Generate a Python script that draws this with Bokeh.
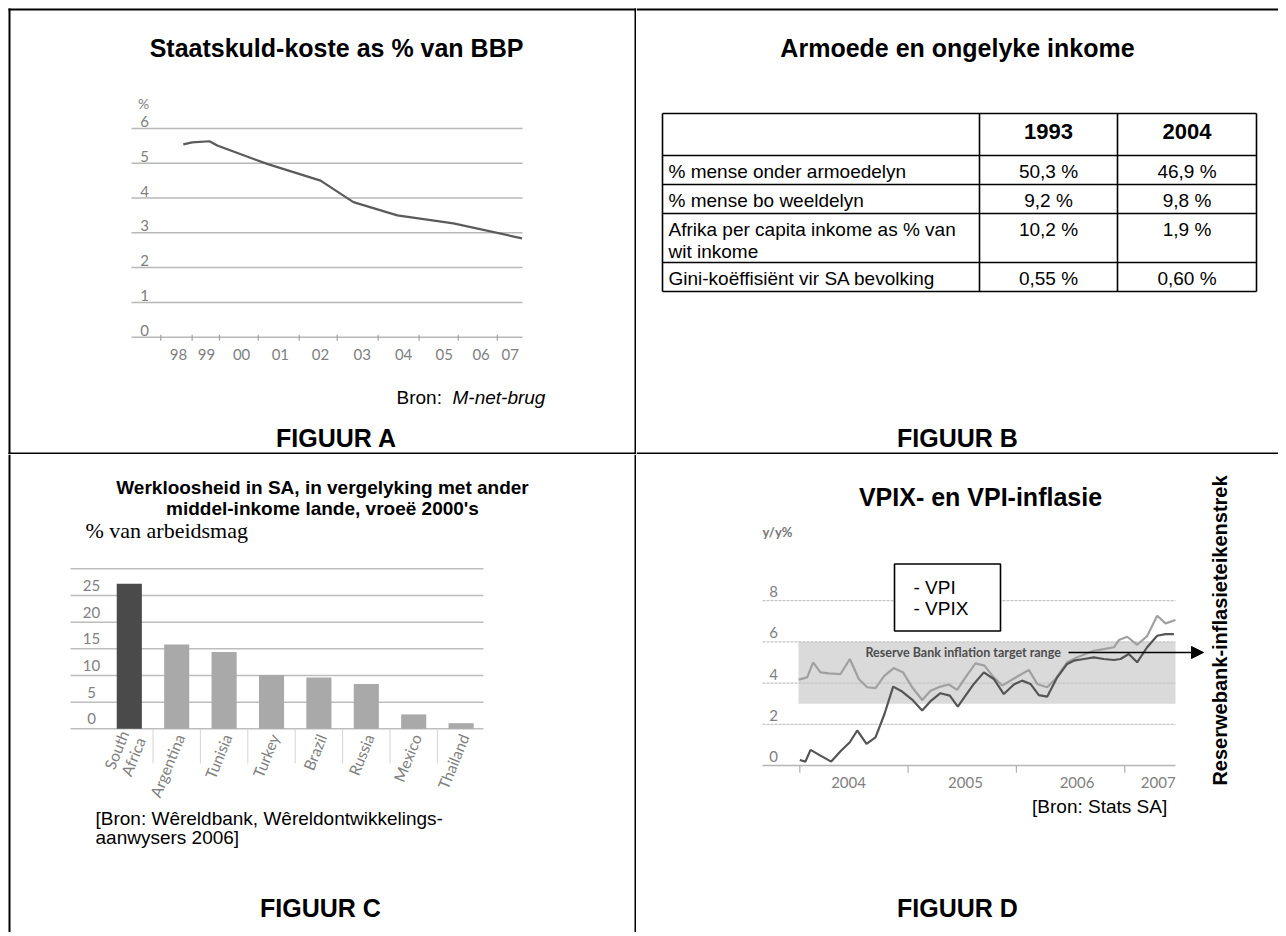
import math
from bokeh.plotting import figure
from bokeh.models import Range1d, Label, Arrow, NormalHead
from bokeh.layouts import column, row
from bokeh.embed import file_html
from bokeh.resources import INLINE
from bokeh.core.properties import value

# ---------------- data ----------------
# Figure A: government debt cost as % of GDP
debt_year = [1998.13, 1998.37, 1998.84, 1999.05, 2000.40, 2001.85, 2002.74, 2003.93, 2005.45, 2007.31]
debt_pct = [5.54, 5.60, 5.63, 5.51, 4.98, 4.50, 3.88, 3.50, 3.27, 2.84]
debt_yticks = [0, 1, 2, 3, 4, 5, 6]
debt_xlabels = ["98", "99", "00", "01", "02", "03", "04", "05", "06", "07"]
debt_xlabel_pos = [1998.0, 1998.76, 1999.71, 2000.76, 2001.85, 2002.98, 2004.10, 2005.20, 2006.20, 2006.99]
debt_xtick_pos = [1997.52, 1998.37, 1999.11, 2000.16, 2001.27, 2002.30, 2003.41, 2004.52, 2005.58, 2006.64]

# Figure B: poverty table
table_years = ["1993", "2004"]
table_rows = ["% mense onder armoedelyn", "% mense bo weeldelyn",
              "Afrika per capita inkome as % van\nwit inkome", "Gini-koëffisiënt vir SA bevolking"]
table_1993 = ["50,3 %", "9,2 %", "10,2 %", "0,55 %"]
table_2004 = ["46,9 %", "9,8 %", "1,9 %", "0,60 %"]

# Figure C: unemployment
countries = ["South\nAfrica", "Argentina", "Tunisia", "Turkey", "Brazil", "Russia", "Mexico", "Thailand"]
unemployment = [27.2, 15.8, 14.4, 10.1, 9.6, 8.4, 2.7, 1.05]
unemp_yticks = [0, 5, 10, 15, 20, 25]
unemp_grid = [0, 5, 10, 15, 20, 25, 30]

# Figure D: CPIX and CPI inflation
vpix_t = [2003.99, 2004.068, 2004.123, 2004.191, 2004.268, 2004.376, 2004.462, 2004.545, 2004.622, 2004.699,
          2004.782, 2004.868, 2004.954, 2005.037, 2005.130, 2005.207, 2005.299, 2005.376, 2005.453, 2005.530,
          2005.622, 2005.705, 2005.791, 2005.868, 2005.945, 2006.022, 2006.115, 2006.192, 2006.284, 2006.361,
          2006.469, 2006.561, 2006.638, 2006.715, 2006.807, 2006.900, 2006.946, 2007.023, 2007.115, 2007.207,
          2007.300, 2007.377, 2007.469]
vpix_v = [4.17, 4.28, 5.01, 4.52, 4.47, 4.44, 5.17, 4.20, 3.80, 3.76,
          4.36, 4.73, 4.52, 3.80, 3.18, 3.63, 3.83, 3.93, 3.67, 4.28,
          4.96, 4.85, 4.28, 3.88, 4.12, 4.36, 4.64, 3.96, 3.80, 4.20,
          5.01, 5.25, 5.41, 5.57, 5.65, 5.74, 6.09, 6.25, 5.86, 6.28,
          7.27, 6.90, 7.06]
vpi_t = [2004.000, 2004.052, 2004.099, 2004.191, 2004.290, 2004.376, 2004.462, 2004.530, 2004.616, 2004.699,
         2004.782, 2004.862, 2004.945, 2005.037, 2005.130, 2005.207, 2005.299, 2005.385, 2005.459, 2005.530,
         2005.607, 2005.699, 2005.791, 2005.884, 2005.976, 2006.053, 2006.130, 2006.207, 2006.284, 2006.377,
         2006.469, 2006.530, 2006.623, 2006.715, 2006.807, 2006.900, 2006.961, 2007.038, 2007.115, 2007.207,
         2007.300, 2007.377, 2007.454]
vpi_v = [0.27, 0.19, 0.76, 0.48, 0.19, 0.69, 1.13, 1.70, 1.05, 1.37,
         2.50, 3.83, 3.59, 3.20, 2.67, 3.12, 3.51, 3.39, 2.86, 3.39,
         3.96, 4.52, 4.20, 3.47, 3.93, 4.12, 3.96, 3.42, 3.34, 4.28,
         4.93, 5.09, 5.17, 5.25, 5.17, 5.12, 5.17, 5.41, 5.01, 5.74,
         6.30, 6.38, 6.38]
target_band = [3, 6]
infl_yticks = [0, 2, 4, 6, 8]
infl_years = [2004, 2005, 2006, 2007]
infl_xlabels = ["2004", "2005", "2006", "2007"]
infl_xlabel_pos = [2004.45, 2005.53, 2006.56, 2007.31]

# ---------------- helpers ----------------
SANS = "Liberation Sans"
CHART = "Lato"
GREY_TXT = "#808080"
TICK = "15px"


def cell(x0, y0, x1, y1):
    p = figure(width=x1 - x0, height=y1 - y0,
               x_range=Range1d(x0, x1), y_range=Range1d(y1, y0),
               x_axis_type=None, y_axis_type=None,
               output_backend="svg", toolbar_location=None, tools="", min_border=0)
    p.outline_line_color = None
    p.background_fill_color = "white"
    p.border_fill_color = "white"
    return p


def lab(p, x, y, text, size, style="normal", align="left", font=SANS, color="black",
        angle=0, baseline="middle"):
    p.add_layout(Label(x=x, y=y, text=text, text_font=font, text_font_size=f"{size}px",
                       text_font_style=style, text_align=align, text_baseline=baseline,
                       text_color=color, angle=angle, angle_units="deg"))


def borders(p, segs):
    p.segment(x0=[s[0] for s in segs], y0=[s[1] for s in segs],
              x1=[s[2] for s in segs], y1=[s[3] for s in segs],
              line_color="black", line_width=2)


TITLE = 25
BODY = 19

# ---------------- Figure A ----------------
pA = cell(0, 0, 636, 454)
borders(pA, [(9, 8, 9, 454), (8, 9, 636, 9), (635, 8, 635, 454), (8, 453, 636, 453)])
axA = lambda px: 1998 + (px - 178) / 36.9
ayA = lambda py: (336.7 - py) / 34.8
pA.extra_x_ranges = {"d": Range1d(axA(0), axA(636))}
pA.extra_y_ranges = {"d": Range1d(ayA(454), ayA(0))}
dA = dict(x_range_name="d", y_range_name="d")
n = len(debt_yticks)
pA.segment(x0=[axA(131)] * n, x1=[axA(522)] * n, y0=debt_yticks, y1=debt_yticks,
           line_color="#b8b8b8", line_width=1.5, **dA)
pA.segment(x0=debt_xtick_pos, x1=debt_xtick_pos, y0=[-0.1] * len(debt_xtick_pos),
           y1=[0.07] * len(debt_xtick_pos), line_color="#a0a0a0", line_width=1.2, **dA)
pA.text(x=[axA(144)] * n, y=debt_yticks, text=[str(v) for v in debt_yticks], y_offset=-7,
        text_font=value(CHART), text_font_size=value(TICK), text_color=GREY_TXT,
        text_align="center", text_baseline="middle", **dA)
pA.text(x=[axA(143)], y=[max(debt_yticks)], text=["%"], y_offset=-25,
        text_font=value(CHART), text_font_size=value("14px"), text_color=GREY_TXT,
        text_align="center", text_baseline="middle", **dA)
pA.text(x=debt_xlabel_pos, y=[0] * len(debt_xlabels), text=debt_xlabels, y_offset=17,
        text_font=value(CHART), text_font_size=value(TICK), text_color=GREY_TXT,
        text_align="center", text_baseline="middle", **dA)
pA.line(debt_year, debt_pct, line_color="#5a5a5a", line_width=2.2, **dA)
lab(pA, 336, 47, "Staatskuld-koste as % van BBP", TITLE, "bold", "center")
lab(pA, 396, 397, "Bron:", BODY)
lab(pA, 452, 397, "M-net-brug", BODY, "italic")
lab(pA, 336, 437, "FIGUUR A", TITLE, "bold", "center")

# ---------------- Figure B ----------------
pB = cell(636, 0, 1278, 454)
borders(pB, [(636, 9, 1278, 9), (636, 453, 1278, 453)])
lab(pB, 957, 47, "Armoede en ongelyke inkome", TITLE, "bold", "center")
tx = [662, 979, 1117, 1256]
ty = [113, 155, 184, 213, 262, 291]
pB.segment(x0=tx, x1=tx, y0=[ty[0]] * 4, y1=[ty[-1]] * 4, line_color="black", line_width=1.6)
pB.segment(x0=[tx[0]] * len(ty), x1=[tx[-1]] * len(ty), y0=ty, y1=ty, line_color="black", line_width=1.6)
colc = [(tx[1] + tx[2]) / 2, (tx[2] + tx[3]) / 2]
pB.text(x=colc, y=[131, 131], text=table_years, text_font=value(SANS), text_font_size=value("22px"),
        text_font_style="bold", text_align="center", text_baseline="middle")
rtop = [t + 5 for t in ty[1:5]]
pB.text(x=[tx[0] + 6] * 4, y=rtop, text=table_rows, text_font=value(SANS), text_font_size=value(f"{BODY}px"),
        text_align="left", text_baseline="top", text_line_height=1.08)
pB.text(x=[colc[0]] * 4, y=rtop, text=table_1993, text_font=value(SANS), text_font_size=value(f"{BODY}px"),
        text_align="center", text_baseline="top")
pB.text(x=[colc[1]] * 4, y=rtop, text=table_2004, text_font=value(SANS), text_font_size=value(f"{BODY}px"),
        text_align="center", text_baseline="top")
lab(pB, 957, 437, "FIGUUR B", TITLE, "bold", "center")

# ---------------- Figure C ----------------
pC = cell(0, 454, 636, 932)
borders(pC, [(9, 454, 9, 932), (635, 454, 635, 932)])
axC = lambda px: (px - 128.8) / 47.4
ayC = lambda py: (728.3 - py) / 5.333
pC.extra_x_ranges = {"d": Range1d(axC(0), axC(636))}
pC.extra_y_ranges = {"d": Range1d(ayC(932), ayC(454))}
dC = dict(x_range_name="d", y_range_name="d")
idx = list(range(len(countries)))
ng = len(unemp_grid)
pC.segment(x0=[axC(70)] * ng, x1=[axC(483)] * ng, y0=unemp_grid, y1=unemp_grid,
           line_color="#bdbdbd", line_width=1.5, **dC)
sep = [i + 0.5 for i in idx[:-1]]
pC.segment(x0=sep, x1=sep, y0=[0] * len(sep), y1=[-6.5] * len(sep), line_color="#d4d4d4", line_width=1, **dC)
bar_colors = ["#4a4a4a"] + ["#a9a9a9"] * (len(countries) - 1)
pC.vbar(x=idx, top=unemployment, width=0.53, fill_color=bar_colors, line_color=None, **dC)
pC.text(x=[axC(91)] * len(unemp_yticks), y=unemp_yticks, text=[str(v) for v in unemp_yticks], y_offset=-10,
        text_font=value(CHART), text_font_size=value(TICK), text_color=GREY_TXT,
        text_align="center", text_baseline="middle", **dC)
pC.text(x=idx, y=[0] * len(idx), text=countries, x_offset=3, y_offset=6, angle=math.radians(68),
        text_font=value(CHART), text_font_size=value("15.5px"), text_color=GREY_TXT,
        text_align="right", text_baseline="middle", text_line_height=1.0, **dC)
lab(pC, 322, 487, "Werkloosheid in SA, in vergelyking met ander", 19, "bold", "center")
lab(pC, 322, 508, "middel-inkome lande, vroeë 2000's", 19, "bold", "center")
lab(pC, 85, 530, "% van arbeidsmag", 22, font="Liberation Serif")
lab(pC, 95, 818, "[Bron:  Wêreldbank, Wêreldontwikkelings-", BODY)
lab(pC, 95, 837, "aanwysers 2006]", BODY)
lab(pC, 320, 907, "FIGUUR C", TITLE, "bold", "center")

# ---------------- Figure D ----------------
pD = cell(636, 454, 1278, 932)
axD = lambda px: 2004 + (px - 799.3) / 108.3
ayD = lambda py: (765 - py) / 20.6
pD.extra_x_ranges = {"d": Range1d(axD(636), axD(1278))}
pD.extra_y_ranges = {"d": Range1d(ayD(932), ayD(454))}
dD = dict(x_range_name="d", y_range_name="d")
pD.quad(left=[axD(798)], right=[axD(1175)], bottom=[target_band[0]], top=[target_band[1]],
        fill_color="#dadada", line_color=None, **dD)
gl = infl_yticks[1:]
pD.segment(x0=[axD(762)] * len(gl), x1=[axD(1175)] * len(gl), y0=gl, y1=gl,
           line_color="#c4c4c4", line_width=1.3, line_dash="3 1", **dD)
pD.segment(x0=[axD(762)], x1=[axD(1175)], y0=[0], y1=[0], line_color="#b5b5b5", line_width=1.5, **dD)
pD.segment(x0=infl_years, x1=infl_years, y0=[0] * 4, y1=[-0.35] * 4, line_color="#b0b0b0", line_width=1.2, **dD)
pD.text(x=[axD(773)] * len(infl_yticks), y=infl_yticks, text=[str(v) for v in infl_yticks], y_offset=-9,
        text_font=value(CHART), text_font_size=value(TICK), text_color=GREY_TXT,
        text_align="center", text_baseline="middle", **dD)
pD.text(x=infl_xlabel_pos, y=[0] * 4, text=infl_xlabels, y_offset=17,
        text_font=value(CHART), text_font_size=value(TICK), text_color=GREY_TXT,
        text_align="center", text_baseline="middle", **dD)
pD.line(vpix_t, vpix_v, line_color="#a0a0a0", line_width=2.2, **dD)
pD.line(vpi_t, vpi_v, line_color="#555555", line_width=2.2, **dD)
lab(pD, 980, 496, "VPIX- en VPI-inflasie", TITLE, "bold", "center")
lab(pD, 762, 531, "y/y%", 13, "bold", font=CHART, color="#777777")
lab(pD, 865, 652, "Reserve Bank inflation target range", 12.5, "bold", font=CHART, color="#4d4d4d")
pD.rect(x=[947], y=[597], width=[106], height=[67], fill_color="white", line_color="black", line_width=1.6)
lab(pD, 913, 587, "- VPI", BODY)
lab(pD, 913, 608, "- VPIX", BODY)
pD.add_layout(Arrow(end=NormalHead(size=12, fill_color="black", line_color="black"),
                    x_start=1068, y_start=652, x_end=1203, y_end=652,
                    line_color="black", line_width=1.5))
lab(pD, 1219, 630, "Reserwebank-inflasieteikenstrek", 20, "bold", "center", angle=90)
lab(pD, 1172, 806, "[Bron:  Stats SA]", BODY, align="right")
lab(pD, 957, 907, "FIGUUR D", TITLE, "bold", "center")

page = column(row(pA, pB), row(pC, pD))
open("out.html", "w").write(file_html(page, INLINE))
